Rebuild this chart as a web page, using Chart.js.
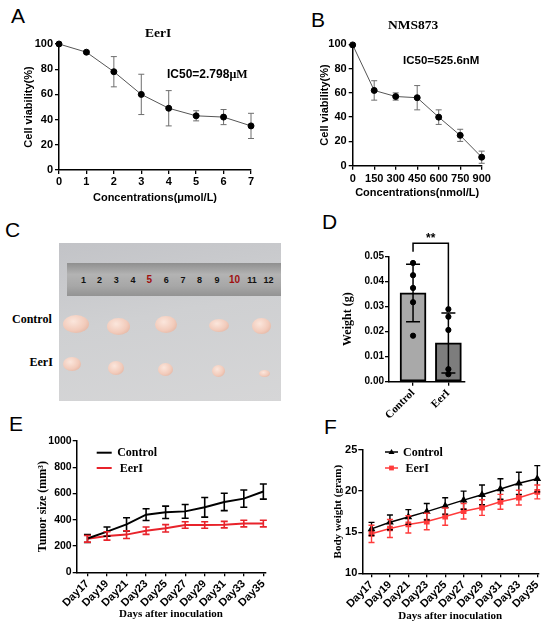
<!DOCTYPE html>
<html>
<head>
<meta charset="utf-8">
<script src="https://cdn.jsdelivr.net/npm/chart.js@4.4.1/dist/chart.umd.min.js"></script>
<style>
  body { margin: 0; background: #fff; }
  #page { position: relative; width: 550px; height: 627px; overflow: hidden; background: #fff;
          font-family: 'Liberation Sans', Arial, sans-serif; }
  canvas { position: absolute; }
  .t { position: absolute; white-space: nowrap; line-height: 1; color: #000; }
  .letter { font-size: 21px; }
  .serif { font-family: 'Liberation Serif', 'Times New Roman', serif; font-weight: bold; }
  .bold { font-weight: bold; }
  /* photo of panel C */
  #photo { position: absolute; left: 59px; top: 243px; width: 222px; height: 158px;
           background: linear-gradient(170deg, #c2c3c7 0%, #cfd0d2 45%, #d6d6d7 100%); overflow: hidden; }
  #ruler { position: absolute; left: 8px; top: 20px; width: 214px; height: 33px;
           background: linear-gradient(180deg, #8f8f8f 0%, #b3b3b3 35%, #a7a7a7 70%, #939393 100%); }
  .num { position: absolute; top: 12px; font: bold 9px 'Liberation Sans', Arial, sans-serif; color: #111;
         width: 14px; margin-left: -7px; text-align: center; }
  .num.red { color: #a01010; font-size: 10px; top: 11px; }
  .tum { position: absolute; border-radius: 50%;
         background: radial-gradient(ellipse at 40% 35%, #fbe6dc 0%, #f2cbbb 55%, #dba894 100%); }
</style>
</head>
<body>
<div id="page">
  <!-- panel letters -->
  <div class="t letter" style="left:11px;top:4.6px">A</div>
  <div class="t letter" style="left:311px;top:9px">B</div>
  <div class="t letter" style="left:5px;top:219px">C</div>
  <div class="t letter" style="left:322px;top:210.6px">D</div>
  <div class="t letter" style="left:9px;top:413px">E</div>
  <div class="t letter" style="left:324px;top:415.5px">F</div>

  <canvas id="cA" width="275" height="210" style="left:0;top:0"></canvas>
  <canvas id="cB" width="275" height="210" style="left:275px;top:0"></canvas>
  <canvas id="cD" width="150" height="205" style="left:320px;top:215px"></canvas>
  <canvas id="cE" width="275" height="202" style="left:0;top:425px"></canvas>
  <canvas id="cF" width="275" height="202" style="left:275px;top:425px"></canvas>

  <!-- chart titles and notes -->
  <div class="t serif" style="left:145px;top:25.9px;font-size:13.5px">EerI</div>
  <div class="t serif" style="left:388px;top:18.3px;font-size:13.5px">NMS873</div>
  <div class="t bold" style="left:167px;top:68.4px;font-size:12px">IC50=2.798<span class="serif" style="font-size:12px">&#956;M</span></div>
  <div class="t bold" style="left:403px;top:55.2px;font-size:11.5px">IC50=525.6nM</div>

  <!-- panel C: tumour photograph -->
  <div class="t serif" style="left:12px;top:312.9px;font-size:12px">Control</div>
  <div class="t serif" style="left:29.5px;top:356.2px;font-size:12px">EerI</div>
  <div id="photo">
    <div id="ruler">
      <div class="num" style="left:16.6px">1</div>
      <div class="num" style="left:32.6px">2</div>
      <div class="num" style="left:49.3px">3</div>
      <div class="num" style="left:66px">4</div>
      <div class="num red" style="left:82.3px">5</div>
      <div class="num" style="left:99.3px">6</div>
      <div class="num" style="left:116px">7</div>
      <div class="num" style="left:132.6px">8</div>
      <div class="num" style="left:150px">9</div>
      <div class="num red" style="left:167.6px">10</div>
      <div class="num" style="left:185px">11</div>
      <div class="num" style="left:201.6px">12</div>
    </div>
    <div class="tum" style="left:4px;top:72px;width:26px;height:18px"></div>
    <div class="tum" style="left:48px;top:75px;width:23px;height:17px"></div>
    <div class="tum" style="left:96px;top:73px;width:22px;height:17px"></div>
    <div class="tum" style="left:150px;top:76px;width:20px;height:13px"></div>
    <div class="tum" style="left:193px;top:75px;width:19px;height:16px"></div>
    <div class="tum" style="left:3.5px;top:113.5px;width:18px;height:14px"></div>
    <div class="tum" style="left:48.5px;top:118px;width:16px;height:14px"></div>
    <div class="tum" style="left:98.5px;top:120px;width:15px;height:13px"></div>
    <div class="tum" style="left:153px;top:122px;width:13px;height:12px"></div>
    <div class="tum" style="left:199.5px;top:126.5px;width:11px;height:7px"></div>
  </div>
</div>

<script>
// ---- data ----
// A: EerI dose response (umol/L vs % viability)
const concA = [0, 1, 2, 3, 4, 5, 6, 7];
const viabA = [100, 93.5, 78, 60, 49, 43, 42, 35];
const errA = [0, 1, 12, 16, 14, 4, 6, 10];

// B: NMS873 dose response (nmol/L vs % viability)
const concB = [0, 150, 300, 450, 600, 750, 900];
const viabB = [99.5, 62, 57, 56, 40, 25, 7];
const errB = [0, 8, 3, 10, 6, 5, 5];

// D: tumour weight (g)
const groupsD = ['Control', 'EerI'];
const meanD = [0.0355, 0.0155];
const sdD = [0.0115, 0.012];
const dotsControl = [0.0475, 0.0426, 0.0375, 0.0318, 0.0184];
const dotsEerI = [0.029, 0.026, 0.0207, 0.005, 0.003];

// E, F: growth curves
const days = [17, 19, 21, 23, 25, 27, 29, 31, 33, 35];
const sizeControl = [257, 310, 365, 439, 457, 464, 495, 536, 561, 615];
const sizeControlErr = [30, 35, 50, 45, 47, 52, 75, 66, 66, 58];
const sizeEerI = [255, 277, 287, 317, 335, 360, 360, 363, 371, 371];
const sizeEerIErr = [25, 32, 30, 28, 28, 25, 25, 25, 25, 25];
const weightControl = [15.4, 16.2, 16.85, 17.5, 18.2, 18.9, 19.55, 20.25, 20.95, 21.5];
const weightControlErr = [0.8, 0.9, 0.9, 1.0, 1.0, 1.1, 1.2, 1.25, 1.35, 1.6];
const weightEerI = [14.8, 15.45, 15.95, 16.3, 16.9, 17.55, 18.0, 18.7, 19.2, 19.9];
const weightEerIErr = [1.05, 1.1, 1.05, 1.0, 1.05, 0.95, 0.95, 0.9, 0.9, 0.85];

const SANS = "'Liberation Sans', Arial, sans-serif";
const SERIF = "'Liberation Serif', 'Times New Roman', serif";

// fixed axis boxes so the plot areas land where the reference has them
function fitX(h) { return s => { s.height = h; s.paddingLeft = 0; s.paddingRight = 0; }; }
function fitY(w) { return s => { s.width = w; s.paddingTop = 0; s.paddingBottom = 0; }; }

function pts(xs, ys) { return xs.map((x, i) => ({ x: x, y: ys[i] })); }

const tickGrid = { drawOnChartArea: false, drawTicks: true, tickLength: 4, color: '#000', lineWidth: 1.3, offset: false };
const border = { color: '#000', width: 1.5 };

function drawErrors(chart) {
  const ctx = chart.ctx;
  chart.data.datasets.forEach((ds, i) => {
    if (!ds.errors) return;
    const meta = chart.getDatasetMeta(i);
    const yScale = chart.scales[meta.yAxisID];
    ctx.save();
    ctx.strokeStyle = ds.errorColor || ds.borderColor;
    ctx.lineWidth = ds.errorWidth || 1;
    meta.data.forEach((el, j) => {
      const v = ds.data[j].y, e = ds.errors[j];
      if (!e) return;
      const top = yScale.getPixelForValue(v + e);
      const bot = yScale.getPixelForValue(v - e);
      const c = ds.capHalf || 3;
      ctx.beginPath();
      ctx.moveTo(el.x, top); ctx.lineTo(el.x, bot);
      ctx.moveTo(el.x - c, top); ctx.lineTo(el.x + c, top);
      ctx.moveTo(el.x - c, bot); ctx.lineTo(el.x + c, bot);
      ctx.stroke();
    });
    ctx.restore();
  });
}

const errorBars = {
  id: 'errorBars',
  beforeDatasetsDraw(chart, args, opts) { if (opts.before) drawErrors(chart); },
  afterDatasetsDraw(chart, args, opts) { if (!opts.before) drawErrors(chart); }
};

// legend drawn inside the plot area, as in panels E and F
const innerLegend = {
  id: 'innerLegend',
  afterDraw(chart, args, o) {
    if (!o.display) return;
    const ctx = chart.ctx, area = chart.chartArea;
    chart.data.datasets.forEach((ds, i) => {
      const y = area.top + o.top + i * o.gap;
      const x0 = area.left + o.left;
      ctx.save();
      ctx.strokeStyle = ds.borderColor;
      ctx.lineWidth = o.lineWidth;
      ctx.beginPath(); ctx.moveTo(x0, y); ctx.lineTo(x0 + o.length, y); ctx.stroke();
      const cx = x0 + o.length / 2, r = ds.pointRadius || 0;
      ctx.fillStyle = ds.borderColor;
      if (r && ds.pointStyle === 'triangle') {
        ctx.beginPath();
        ctx.moveTo(cx, y - r); ctx.lineTo(cx + r, y + r * 0.7); ctx.lineTo(cx - r, y + r * 0.7);
        ctx.closePath(); ctx.fill();
      } else if (r && ds.pointStyle === 'rect') {
        ctx.fillRect(cx - r * 0.8, y - r * 0.8, r * 1.6, r * 1.6);
      }
      ctx.fillStyle = '#000';
      ctx.font = o.font;
      ctx.textBaseline = 'middle';
      ctx.fillText(ds.label, x0 + o.length + o.textGap + (o.shift ? o.shift[i] : 0), y + 0.5);
      ctx.restore();
    });
  }
};

// significance bracket of panel D
const sigBracket = {
  id: 'sigBracket',
  afterDraw(chart, args, o) {
    if (!o.display) return;
    const ctx = chart.ctx, xs = chart.scales.x, ys = chart.scales.y;
    const x1 = xs.getPixelForValue(o.x1), x2 = xs.getPixelForValue(o.x2);
    const yt = ys.getPixelForValue(o.top);
    ctx.save();
    ctx.strokeStyle = '#000';
    ctx.lineWidth = 1.5;
    ctx.beginPath();
    ctx.moveTo(x1, ys.getPixelForValue(o.y1));
    ctx.lineTo(x1, yt); ctx.lineTo(x2, yt);
    ctx.lineTo(x2, ys.getPixelForValue(o.y2));
    ctx.stroke();
    ctx.fillStyle = '#000';
    ctx.font = 'bold 12px ' + SANS;
    ctx.textAlign = 'center';
    ctx.textBaseline = 'bottom';
    ctx.fillText(o.text, (x1 + x2) / 2, yt + 1);
    ctx.restore();
  }
};

function baseOptions(padding) {
  return {
    responsive: false,
    animation: false,
    events: [],
    layout: { padding: padding },
    plugins: { legend: { display: false }, tooltip: { enabled: false } }
  };
}

const plain = v => String(v);

// ---- panel A ----
const optA = baseOptions({ left: 22, top: 44, right: 24, bottom: 5.4 });
optA.plugins.errorBars = { before: true };
optA.scales = {
  x: { type: 'linear', min: 0, max: 7, afterFit: fitX(34.6),
       ticks: { stepSize: 1, color: '#000', padding: 1, autoSkip: false, maxRotation: 0, minRotation: 0,
                font: { family: SANS, size: 11, weight: 'bold' } },
       grid: tickGrid, border: border,
       title: { display: true, text: 'Concentrations(\u03bcmol/L)', color: '#000', padding: 0,
                font: { family: SANS, size: 11, weight: 'bold' } } },
  y: { min: 0, max: 100, afterFit: fitY(37),
       ticks: { stepSize: 20, color: '#000', padding: 2, font: { family: SANS, size: 11, weight: 'bold' } },
       grid: tickGrid, border: border,
       title: { display: true, text: 'Cell viability(%)', color: '#000', padding: 0,
                font: { family: SANS, size: 11, weight: 'bold' } } }
};
new Chart(document.getElementById('cA'), {
  type: 'line',
  data: { datasets: [{
    data: pts(concA, viabA), errors: errA, errorColor: '#6e6e6e', capHalf: 3,
    borderColor: '#555', borderWidth: 1, pointRadius: 3,
    pointBackgroundColor: '#000', pointBorderColor: '#000', clip: false
  }] },
  options: optA,
  plugins: [errorBars]
});

// ---- panel B ----
const optB = baseOptions({ left: 43.4, top: 44.3, right: 68.3, bottom: 10.7 });
optB.plugins.errorBars = { before: true };
optB.scales = {
  x: { type: 'linear', min: 0, max: 900, afterFit: fitX(33.6),
       ticks: { stepSize: 150, color: '#000', padding: 2.7, autoSkip: false, maxRotation: 0, minRotation: 0,
                font: { family: SANS, size: 11, weight: 'bold' } },
       grid: tickGrid, border: border,
       title: { display: true, text: 'Concentrations(nmol/L)', color: '#000', padding: 0,
                font: { family: SANS, size: 11, weight: 'bold' } } },
  y: { min: 0, max: 100, afterFit: fitY(34.3),
       ticks: { stepSize: 20, color: '#000', padding: 2, font: { family: SANS, size: 11, weight: 'bold' } },
       grid: tickGrid, border: border,
       title: { display: true, text: 'Cell viability(%)', color: '#000', padding: 0,
                font: { family: SANS, size: 11, weight: 'bold' } } }
};
new Chart(document.getElementById('cB'), {
  type: 'line',
  data: { datasets: [{
    data: pts(concB, viabB), errors: errB, errorColor: '#6e6e6e', capHalf: 3,
    borderColor: '#555', borderWidth: 1, pointRadius: 3,
    pointBackgroundColor: '#000', pointBorderColor: '#000', clip: false
  }] },
  options: optB,
  plugins: [errorBars]
});

// ---- panel D ----
const optD = baseOptions({ left: 21.1, top: 41.7, right: 1.7, bottom: 0 });
optD.plugins.sigBracket = { display: true, x1: 0, x2: 1, top: 0.0554, y1: 0.052, y2: 0.030, text: '**' };
optD.scales = {
  x: { type: 'linear', min: -0.68, max: 1.47, offset: false, afterFit: fitX(38.3),
       afterBuildTicks: s => { s.ticks = groupsD.map((g, i) => ({ value: i })); },
       ticks: { color: '#000', padding: 1, autoSkip: false, maxRotation: 45, minRotation: 45,
                callback: v => groupsD[v], font: { family: SERIF, size: 11, weight: 'bold' } },
       grid: tickGrid, border: border },
  y: { min: 0, max: 0.05, afterFit: fitY(47.9),
       ticks: { stepSize: 0.01, color: '#000', padding: 1, callback: v => v.toFixed(2),
                font: { family: SANS, size: 10, weight: 'bold' } },
       grid: tickGrid, border: border,
       title: { display: true, text: 'Weight (g)', color: '#000', padding: 0,
                font: { family: SERIF, size: 12, weight: 'bold' } } }
};
new Chart(document.getElementById('cD'), {
  type: 'bar',
  data: { datasets: [
    { type: 'scatter', data: pts(dotsControl.map(() => 0), dotsControl).concat(pts(dotsEerI.map(() => 1), dotsEerI)),
      pointRadius: 2.6, pointBackgroundColor: '#000', pointBorderColor: '#000', clip: false, order: 0 },
    { type: 'bar', data: pts([0, 1], meanD), errors: sdD, errorColor: '#000', errorWidth: 1.5, capHalf: 7,
      backgroundColor: ['#a9a9a9', '#7d7d7d'], borderColor: '#000', borderWidth: 2,
      borderSkipped: false, barThickness: 26, order: 1 }
  ] },
  options: optD,
  plugins: [errorBars, sigBracket]
});

// ---- panel E ----
const dayTicks = s => { s.ticks = days.map(v => ({ value: v })); };
const optE = baseOptions({ left: 36.1, top: 16, right: 9.7, bottom: 6.4 });
optE.plugins.innerLegend = { display: true, left: 20, top: 11.7, gap: 15.3, length: 15, textGap: 5.5,
                             shift: [0, 2.5], lineWidth: 2, font: 'bold 12px ' + SERIF };
optE.scales = {
  x: { type: 'linear', min: 15.9, max: 35.2, afterFit: fitX(48.3), afterBuildTicks: dayTicks,
       ticks: { color: '#000', padding: 1, autoSkip: false, maxRotation: 45, minRotation: 45,
                callback: v => 'Day' + v, font: { family: SANS, size: 11, weight: 'bold' } },
       grid: tickGrid, border: border,
       title: { display: true, text: 'Days after inoculation', color: '#000', padding: 0,
                font: { family: SERIF, size: 11, weight: 'bold' } } },
  y: { min: 0, max: 1000, afterFit: fitY(40.6),
       ticks: { stepSize: 200, color: '#000', padding: 1, callback: plain,
                font: { family: SANS, size: 10.5, weight: 'bold' } },
       grid: tickGrid, border: border,
       title: { display: true, text: 'Tumor size (mm\u00b3)', color: '#000', padding: 0,
                font: { family: SERIF, size: 12, weight: 'bold' } } }
};
new Chart(document.getElementById('cE'), {
  type: 'line',
  data: { datasets: [
    { label: 'Control', data: pts(days, sizeControl), errors: sizeControlErr, errorWidth: 1.6, capHalf: 3.5,
      borderColor: '#000', borderWidth: 2, pointRadius: 0, clip: false },
    { label: 'EerI', data: pts(days, sizeEerI), errors: sizeEerIErr, errorWidth: 1.6, capHalf: 3.5,
      borderColor: '#e8232b', borderWidth: 2, pointRadius: 0, clip: false }
  ] },
  options: optE,
  plugins: [errorBars, innerLegend]
});

// ---- panel F ----
const optF = baseOptions({ left: 56.7, top: 25, right: 11.8, bottom: 4.4 });
optF.plugins.innerLegend = { display: true, left: 22.7, top: 2, gap: 16, length: 13, textGap: 5,
                             shift: [0, 2.5], lineWidth: 1.5, font: 'bold 12px ' + SERIF };
optF.scales = {
  x: { type: 'linear', min: 16, max: 35.1, afterFit: fitX(49.3), afterBuildTicks: dayTicks,
       ticks: { color: '#000', padding: 1, autoSkip: false, maxRotation: 45, minRotation: 45,
                callback: v => 'Day' + v, font: { family: SANS, size: 11, weight: 'bold' } },
       grid: tickGrid, border: border,
       title: { display: true, text: 'Days after inoculation', color: '#000', padding: 0,
                font: { family: SERIF, size: 11, weight: 'bold' } } },
  y: { min: 10, max: 25, afterFit: fitY(30.6),
       ticks: { stepSize: 5, color: '#000', padding: 1, font: { family: SANS, size: 11, weight: 'bold' } },
       grid: tickGrid, border: border,
       title: { display: true, text: 'Body weight (gram)', color: '#000', padding: 0,
                font: { family: SERIF, size: 11, weight: 'bold' } } }
};
new Chart(document.getElementById('cF'), {
  type: 'line',
  data: { datasets: [
    { label: 'Control', data: pts(days, weightControl), errors: weightControlErr, errorWidth: 1.4, capHalf: 3,
      borderColor: '#000', borderWidth: 1.5, pointStyle: 'triangle', pointRadius: 3,
      pointBackgroundColor: '#000', pointBorderColor: '#000', clip: false },
    { label: 'EerI', data: pts(days, weightEerI), errors: weightEerIErr, errorWidth: 1.4, capHalf: 3,
      borderColor: '#ff3b3b', borderWidth: 1.5, pointStyle: 'rect', pointRadius: 3,
      pointBackgroundColor: '#ff3b3b', pointBorderColor: '#ff3b3b', clip: false }
  ] },
  options: optF,
  plugins: [errorBars, innerLegend]
});
</script>
</body>
</html>
